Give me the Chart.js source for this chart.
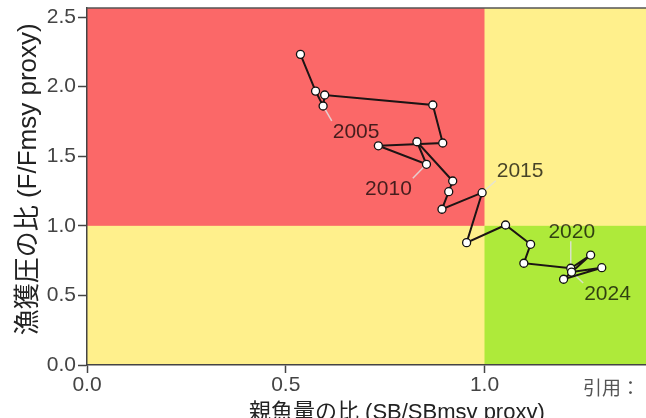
<!DOCTYPE html>
<html>
<head>
<meta charset="utf-8">
<script src="https://cdn.jsdelivr.net/npm/chart.js@4"></script>
<style>
  html, body { margin: 0; padding: 0; background: #fff; overflow: hidden; }
</style>
</head>
<body>
<canvas id="kobe" width="712" height="430"></canvas>
<script>
// Kobe plot: SB/SBmsy vs F/Fmsy, 2003-2024
const years   = [2003, 2004, 2005, 2006, 2007, 2008, 2009, 2010, 2011, 2012, 2013,
                 2014, 2015, 2016, 2017, 2018, 2019, 2020, 2021, 2022, 2023, 2024];
const sbRatio = [0.537, 0.575, 0.594, 0.598, 0.870, 0.895, 0.733, 0.854, 0.830, 0.920, 0.910,
                 0.893, 0.994, 0.955, 1.053, 1.116, 1.099, 1.217, 1.267, 1.199, 1.295, 1.219];
const fRatio  = [2.232, 1.968, 1.861, 1.940, 1.868, 1.595, 1.575, 1.442, 1.604, 1.322, 1.245,
                 1.119, 1.238, 0.879, 1.006, 0.867, 0.731, 0.695, 0.790, 0.616, 0.699, 0.668];
const labelledYears = [2005, 2010, 2015, 2020, 2024];
const xTicks = [0, 0.5, 1.0, 1.5];
const yTicks = [0, 0.5, 1.0, 1.5, 2.0, 2.5];
const refLine = 1.0;

const xTitle = '親魚量の比 (SB/SBmsy proxy)';
const yTitle = '  漁獲圧の比 (F/Fmsy proxy)';
const sourceText = '引用：';

// label text offset from its point, in px
const labelOffsets = {2005: [33, 25], 2010: [-38, 24], 2015: [38, -22], 2020: [1, -37], 2024: [36, 21]};

const kobeBackground = {
  id: 'kobeBackground',
  beforeDraw(chart) {
    const {ctx, chartArea: a, scales: {x, y}} = chart;
    const px = x.getPixelForValue(refLine);
    const py = y.getPixelForValue(refLine);
    ctx.save();
    ctx.fillStyle = '#fff08c';
    ctx.fillRect(a.left, a.top, a.right - a.left, a.bottom - a.top);
    ctx.fillStyle = '#fb6868';
    ctx.fillRect(a.left, a.top, px - a.left, py - a.top);
    ctx.fillStyle = '#aeea3a';
    ctx.fillRect(px, py, a.right - px, a.bottom - py);
    ctx.restore();
  },
  afterDraw(chart) {
    const {ctx, chartArea: a} = chart;
    ctx.save();
    ctx.strokeStyle = '#555';
    ctx.lineWidth = 1.5;
    ctx.beginPath();
    ctx.moveTo(a.left, a.top);
    ctx.lineTo(a.right, a.top);
    ctx.stroke();
    ctx.fillStyle = '#555';
    ctx.font = '19px "Noto Sans CJK JP"';
    ctx.textAlign = 'left';
    ctx.textBaseline = 'middle';
    ctx.fillText(sourceText, 583, 388);
    ctx.restore();
  }
};

const yearLabels = {
  id: 'yearLabels',
  boxes(chart) {
    const meta = chart.getDatasetMeta(0);
    const ctx = chart.ctx;
    ctx.font = '21px "Liberation Sans"';
    return labelledYears.map(yr => {
      const i = years.indexOf(yr);
      const pt = meta.data[i];
      const [dx, dy] = labelOffsets[yr];
      const cx = pt.x + dx, cy = pt.y + dy;
      const w = ctx.measureText(String(yr)).width;
      return {yr, pt, cx, cy, x0: cx - w / 2 - 1, x1: cx + w / 2 + 1, y0: cy - 10, y1: cy + 10};
    });
  },
  beforeDatasetsDraw(chart) {
    const ctx = chart.ctx;
    ctx.save();
    const bs = this.boxes(chart);
    ctx.strokeStyle = 'rgba(225,225,225,0.85)';
    ctx.lineWidth = 1.5;
    bs.forEach(b => {
      const ex = Math.min(Math.max(b.pt.x, b.x0), b.x1);
      const ey = Math.min(Math.max(b.pt.y, b.y0), b.y1);
      ctx.beginPath();
      ctx.moveTo(b.pt.x, b.pt.y);
      ctx.lineTo(ex, ey);
      ctx.stroke();
    });
    ctx.restore();
  },
  afterDatasetsDraw(chart) {
    const ctx = chart.ctx;
    ctx.save();
    const bs = this.boxes(chart);
    ctx.font = '21px "Liberation Sans"';
    ctx.fillStyle = 'rgba(0,0,0,0.72)';
    ctx.textAlign = 'center';
    ctx.textBaseline = 'middle';
    bs.forEach(b => ctx.fillText(String(b.yr), b.cx, b.cy + 1));
    ctx.restore();
  }
};

new Chart(document.getElementById('kobe'), {
  type: 'scatter',
  data: {
    datasets: [{
      data: sbRatio.map((v, i) => ({x: v, y: fRatio[i]})),
      showLine: true,
      tension: 0,
      borderColor: '#1c1414',
      borderWidth: 2,
      pointRadius: 4,
      pointBackgroundColor: '#ffffff',
      pointBorderColor: '#111',
      pointBorderWidth: 1.3,
    }],
  },
  options: {
    responsive: false,
    animation: false,
    layout: {padding: {top: 8, right: 1, left: 0, bottom: 0}},
    plugins: {
      legend: {display: false},
      tooltip: {enabled: false},
    },
    scales: {
      x: {
        type: 'linear',
        min: 0,
        max: 1.559,
        afterBuildTicks: s => { s.ticks = xTicks.map(v => ({value: v})); },
        afterFit: s => { s.height = 65; s.paddingLeft = 0; s.paddingRight = 0; },
        grid: {drawOnChartArea: false, drawTicks: true, tickLength: 8, color: '#444', tickWidth: 1.5},
        border: {display: true, color: '#444', width: 1.5},
        ticks: {
          padding: 0,
          color: '#444',
          font: {family: 'Liberation Sans', size: 21},
          callback: v => Number(v).toFixed(1),
        },
        title: {
          display: true,
          text: xTitle,
          color: '#222',
          font: {family: '"Liberation Sans", "Noto Sans CJK JP"', size: 22},
          padding: {top: 0, bottom: 4},
        },
      },
      y: {
        type: 'linear',
        min: 0,
        max: 2.565,
        afterBuildTicks: s => { s.ticks = yTicks.map(v => ({value: v})); },
        afterFit: s => { s.width = 87; s.paddingTop = 0; s.paddingBottom = 0; },
        grid: {drawOnChartArea: false, drawTicks: true, tickLength: 9, color: '#444', tickWidth: 1.5},
        border: {display: true, color: '#444', width: 1.5},
        ticks: {
          padding: 2,
          color: '#444',
          font: {family: 'Liberation Sans', size: 21},
          callback: v => Number(v).toFixed(1),
        },
        title: {
          display: true,
          text: yTitle,
          color: '#222',
          font: {family: '"Liberation Sans", "Noto Sans CJK JP"', size: 26},
          padding: {top: 13, bottom: 0},
        },
      },
    },
  },
  plugins: [kobeBackground, yearLabels],
});
</script>
</body>
</html>
